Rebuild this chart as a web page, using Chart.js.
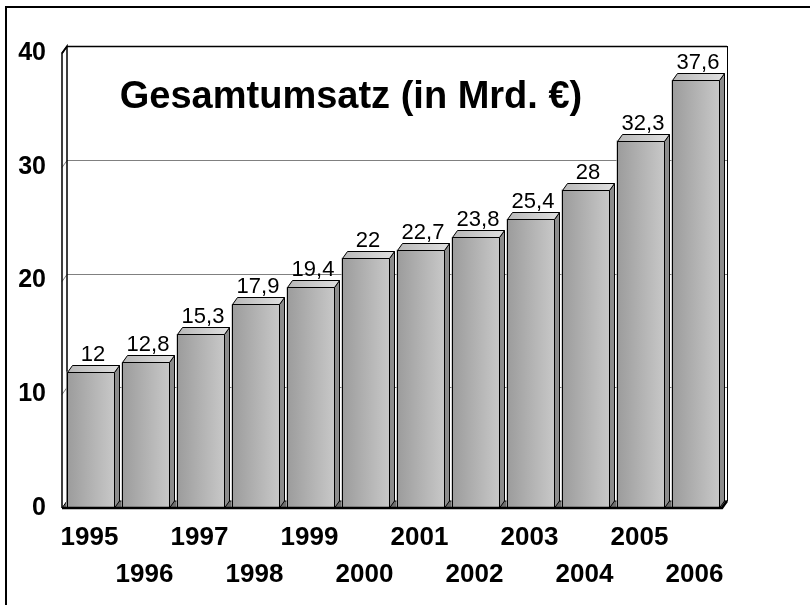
<!DOCTYPE html>
<html>
<head>
<meta charset="utf-8">
<script src="https://cdn.jsdelivr.net/npm/chart.js@4.4.0/dist/chart.umd.min.js"></script>
<style>
  html, body { margin: 0; padding: 0; background: #fff; }
  canvas { display: block; }
</style>
</head>
<body>
<canvas id="chart" width="810" height="605"></canvas>
<script>
// data
const years = ['1995', '1996', '1997', '1998', '1999', '2000',
               '2001', '2002', '2003', '2004', '2005', '2006'];
const revenue = [12, 12.8, 15.3, 17.9, 19.4, 22, 22.7, 23.8, 25.4, 28, 32.3, 37.6];
const yMin = 0, yMax = 40, yStep = 10;
const chartTitle = 'Gesamtumsatz (in Mrd. €)';

const FONT = '"Liberation Sans", Arial, sans-serif';
const DX = 5, DY = 7; // depth of the fake 3d

function poly(ctx, pts, fill, stroke, lw) {
  ctx.beginPath();
  ctx.moveTo(pts[0][0], pts[0][1]);
  for (let i = 1; i < pts.length; i++) ctx.lineTo(pts[i][0], pts[i][1]);
  ctx.closePath();
  if (fill) { ctx.fillStyle = fill; ctx.fill(); }
  if (stroke) { ctx.strokeStyle = stroke; ctx.lineWidth = lw || 1; ctx.stroke(); }
}

const box3d = {
  id: 'box3d',
  beforeDraw(chart) {
    const ctx = chart.ctx;
    ctx.save();
    ctx.fillStyle = '#fff';
    ctx.fillRect(0, 0, chart.width, chart.height);
    // outer frame (cut off at right and bottom)
    ctx.fillStyle = '#000';
    ctx.fillRect(5, 6, chart.width - 5, 2);
    ctx.fillRect(5, 6, 2, chart.height - 6);
    ctx.restore();
  },
  beforeDatasetsDraw(chart) {
    const ctx = chart.ctx, a = chart.chartArea, y = chart.scales.y;
    ctx.save();
    // back wall grid lines
    for (let v = yMin + yStep; v <= yMax; v += yStep) {
      const fy = Math.round(y.getPixelForValue(v)) + 0.5;
      const by = fy - DY;
      ctx.strokeStyle = v === yMax ? '#000' : '#808080';
      ctx.lineWidth = v === yMax ? 1.5 : 1;
      ctx.beginPath();
      ctx.moveTo(a.left, fy);
      ctx.lineTo(a.left + DX, by);
      ctx.lineTo(a.right + DX, by);
      ctx.stroke();
    }
    // right edge of back wall
    ctx.strokeStyle = '#000';
    ctx.lineWidth = 1;
    ctx.beginPath();
    ctx.moveTo(a.right + DX + 0.5, a.top - DY);
    ctx.lineTo(a.right + DX + 0.5, a.bottom - DY);
    ctx.stroke();
    // left wall
    ctx.lineWidth = 1.5;
    ctx.beginPath();
    ctx.moveTo(a.left, a.bottom);
    ctx.lineTo(a.left, a.top);
    ctx.lineTo(a.left + DX, a.top - DY);
    ctx.lineTo(a.left + DX, a.bottom - DY);
    ctx.stroke();
    // floor
    poly(ctx, [[a.left, a.bottom], [a.right, a.bottom],
               [a.right + DX, a.bottom - DY], [a.left + DX, a.bottom - DY]],
         '#6e6e6e', '#000', 1);
    ctx.restore();
  },
  afterDatasetsDraw(chart) {
    const ctx = chart.ctx, a = chart.chartArea;
    const meta = chart.getDatasetMeta(0);
    ctx.save();
    meta.data.forEach((el, i) => {
      const l = Math.round(el.x - el.width / 2) + 1.5;
      const r = Math.round(el.x + el.width / 2) + 1.5;
      const t = Math.round(el.y) + 0.5;
      const b = el.base;
      // front
      const g = ctx.createLinearGradient(l, 0, r, 0);
      g.addColorStop(0, '#9c9c9c');
      g.addColorStop(1, '#c8c8c8');
      poly(ctx, [[l, t], [r, t], [r, b], [l, b]], g, '#000', 1);
      // side
      poly(ctx, [[r, t], [r + DX, t - DY], [r + DX, b - DY], [r, b]], '#8c8c8c', '#000', 1);
      // top
      const gt = ctx.createLinearGradient(l, 0, r + DX, 0);
      gt.addColorStop(0, '#b8b8b8');
      gt.addColorStop(1, '#e0e0e0');
      poly(ctx, [[l, t], [l + DX, t - DY], [r + DX, t - DY], [r, t]], gt, '#000', 1);
      // value label
      ctx.fillStyle = '#000';
      ctx.font = '22px ' + FONT;
      ctx.textAlign = 'center';
      ctx.textBaseline = 'alphabetic';
      ctx.fillText(String(revenue[i]).replace('.', ','), el.x + 1 + DX / 2, t - DY - 5);
    });
    // floor front edge
    ctx.strokeStyle = '#000';
    ctx.lineWidth = 2.5;
    ctx.beginPath();
    ctx.moveTo(a.left, a.bottom);
    ctx.lineTo(a.right, a.bottom);
    ctx.lineTo(a.right + DX, a.bottom - DY);
    ctx.stroke();
    // title inside the plot
    ctx.fillStyle = '#000';
    ctx.font = 'bold 38px ' + FONT;
    ctx.textAlign = 'center';
    ctx.textBaseline = 'middle';
    ctx.fillText(chartTitle, 351, 98);
    ctx.restore();
  }
};

new Chart(document.getElementById('chart'), {
  type: 'bar',
  data: {
    labels: years,
    datasets: [{
      data: revenue,
      backgroundColor: '#b2b2b2',
      borderColor: '#000',
      borderWidth: 0,
      barPercentage: 0.84,
      categoryPercentage: 1
    }]
  },
  options: {
    responsive: false,
    animation: false,
    devicePixelRatio: 1,
    layout: { padding: { left: 0, right: 88, top: 53, bottom: 0 } },
    plugins: {
      legend: { display: false },
      tooltip: { enabled: false }
    },
    scales: {
      x: {
        grid: { display: false, drawTicks: false },
        border: { display: false },
        ticks: {
          color: '#000',
          font: { family: FONT, size: 26, weight: 'bold', lineHeight: 1.42 },
          padding: 11,
          maxRotation: 0,
          autoSkip: false,
          callback: function (v, i) {
            const s = this.getLabelForValue(v);
            return i % 2 === 0 ? [s, ''] : ['', s];
          }
        },
        afterFit(scale) { scale.height = 97; }
      },
      y: {
        min: yMin,
        max: yMax,
        grid: { display: false, drawTicks: false },
        border: { display: false },
        ticks: {
          stepSize: yStep,
          color: '#000',
          padding: 16,
          font: { family: FONT, size: 25, weight: 'bold' }
        },
        afterFit(scale) { scale.width = 62; }
      }
    }
  },
  plugins: [box3d]
});
</script>
</body>
</html>
